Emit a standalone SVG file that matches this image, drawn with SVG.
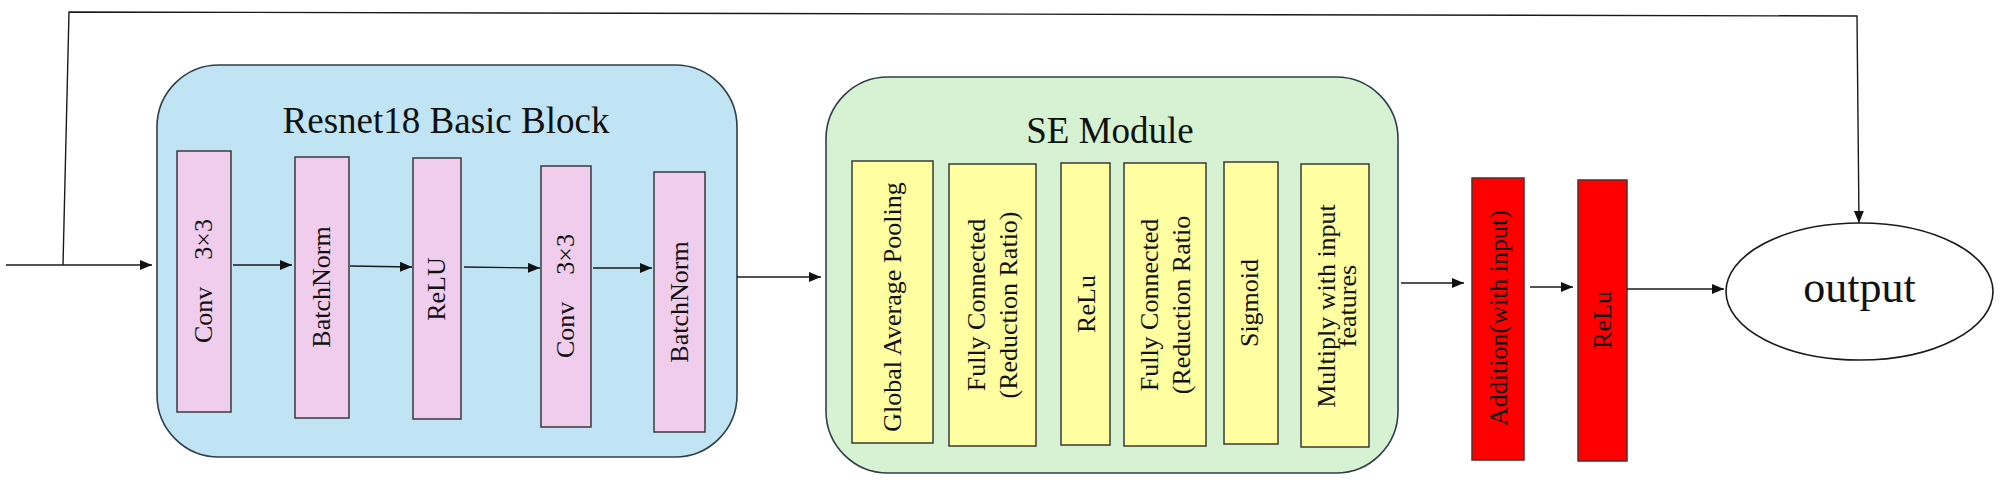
<svg xmlns="http://www.w3.org/2000/svg" width="2000" height="489" viewBox="0 0 2000 489">
<style>
.t{font-family:"Liberation Serif","Times New Roman",serif;fill:#111}
.lbl{font-size:26px;text-anchor:middle}
.ttl{font-size:37px;text-anchor:middle}
.pink{fill:#F0CDEC;stroke:#3a3a3a;stroke-width:1.5}
.yel{fill:#FFFFA2;stroke:#3a3a3a;stroke-width:1.5}
.red{fill:#FF0000;stroke:#5a2a2a;stroke-width:1.5}
.con{fill:none;stroke:#1a1a1a;stroke-width:1.4}
</style>
<defs>
<marker id="ah" markerUnits="userSpaceOnUse" markerWidth="14" markerHeight="12" refX="12" refY="5" orient="auto">
<path d="M0,0 L12,5 L0,10 Z" fill="#111"/>
</marker>
</defs>
<rect width="2000" height="489" fill="#fff"/>

<g id="resnet-block">
<rect x="157" y="65" width="580" height="392" rx="62" ry="62" fill="#C1E4F4" stroke="#2f3f4a" stroke-width="1.6"/>
<text class="t ttl" x="446" y="133">Resnet18 Basic Block</text>
</g>
<g id="conv1">
<rect class="pink" x="177" y="151" width="54" height="261"/>
<text class="t lbl" transform="translate(204,281) rotate(-90)" y="8">Conv<tspan dx="27">3×3</tspan></text>
</g>
<g id="bn1">
<rect class="pink" x="295" y="157" width="54" height="261"/>
<text class="t lbl" transform="translate(322,287) rotate(-90)" y="8">BatchNorm</text>
</g>
<g id="relu1">
<rect class="pink" x="413" y="158" width="48" height="261"/>
<text class="t lbl" transform="translate(437,289) rotate(-90)" y="8">ReLU</text>
</g>
<g id="conv2">
<rect class="pink" x="541" y="166" width="50" height="261"/>
<text class="t lbl" transform="translate(566,296) rotate(-90)" y="8">Conv<tspan dx="27">3×3</tspan></text>
</g>
<g id="bn2">
<rect class="pink" x="654" y="172" width="51" height="260"/>
<text class="t lbl" transform="translate(680,302) rotate(-90)" y="8">BatchNorm</text>
</g>

<g id="se-module">
<rect x="826" y="77" width="572" height="396" rx="62" ry="62" fill="#D6F2D2" stroke="#2f3f4a" stroke-width="1.6"/>
<text class="t ttl" x="1110" y="143">SE Module</text>
</g>
<g id="gap">
<rect class="yel" x="852" y="161" width="81" height="282"/>
<text class="t lbl" transform="translate(892,307) rotate(-90)" y="9">Global Average Pooling</text>
</g>
<g id="fc1">
<rect class="yel" x="949" y="164" width="87" height="282"/>
<text class="t lbl" transform="translate(992,305) rotate(-90)"><tspan x="0" y="-7">Fully Connected</tspan><tspan x="0" y="25">(Reduction Ratio)</tspan></text>
</g>
<g id="relu-se">
<rect class="yel" x="1061" y="163" width="49" height="282"/>
<text class="t lbl" transform="translate(1086,304) rotate(-90)" y="9">ReLu</text>
</g>
<g id="fc2">
<rect class="yel" x="1124" y="163" width="82" height="283"/>
<text class="t lbl" transform="translate(1165,305) rotate(-90)"><tspan x="0" y="-7">Fully Connected</tspan><tspan x="0" y="25">(Reduction Ratio</tspan></text>
</g>
<g id="sigmoid">
<rect class="yel" x="1224" y="162" width="54" height="282"/>
<text class="t lbl" transform="translate(1249,303) rotate(-90)" y="9">Sigmoid</text>
</g>
<g id="multiply">
<rect class="yel" x="1301" y="164" width="68" height="283"/>
<text class="t lbl" transform="translate(1335,306) rotate(-90)"><tspan x="0" y="0">Multiply with input</tspan><tspan x="0" y="21">features</tspan></text>
</g>

<g id="addition">
<rect class="red" x="1472" y="178" width="52" height="282"/>
<text class="t lbl" transform="translate(1498,318) rotate(-90)" y="9">Addition(with input)</text>
</g>
<g id="relu-out">
<rect class="red" x="1578" y="180" width="49" height="281"/>
<text class="t lbl" transform="translate(1602,320) rotate(-90)" y="9">ReLu</text>
</g>

<g id="output">
<ellipse cx="1859.5" cy="291.5" rx="133.5" ry="68.5" fill="#fff" stroke="#1a1a1a" stroke-width="1.6"/>
<text class="t" x="1859.5" y="302" font-size="44" text-anchor="middle">output</text>
</g>

<g id="connectors">
<line class="con" x1="6" y1="265" x2="152" y2="265" marker-end="url(#ah)"/>
<polyline class="con" points="63,265 69,12 1857,16 1859,223" marker-end="url(#ah)"/>
<line class="con" x1="233" y1="265" x2="292" y2="265" marker-end="url(#ah)"/>
<line class="con" x1="350" y1="266" x2="412" y2="267" marker-end="url(#ah)"/>
<line class="con" x1="464" y1="267" x2="540" y2="268" marker-end="url(#ah)"/>
<line class="con" x1="593" y1="268" x2="652" y2="268" marker-end="url(#ah)"/>
<line class="con" x1="737" y1="277" x2="821" y2="277" marker-end="url(#ah)"/>
<line class="con" x1="1401" y1="283" x2="1464" y2="283" marker-end="url(#ah)"/>
<line class="con" x1="1530" y1="287" x2="1573" y2="287" marker-end="url(#ah)"/>
<line class="con" x1="1627" y1="289" x2="1724" y2="289" marker-end="url(#ah)"/>
</g>
</svg>
